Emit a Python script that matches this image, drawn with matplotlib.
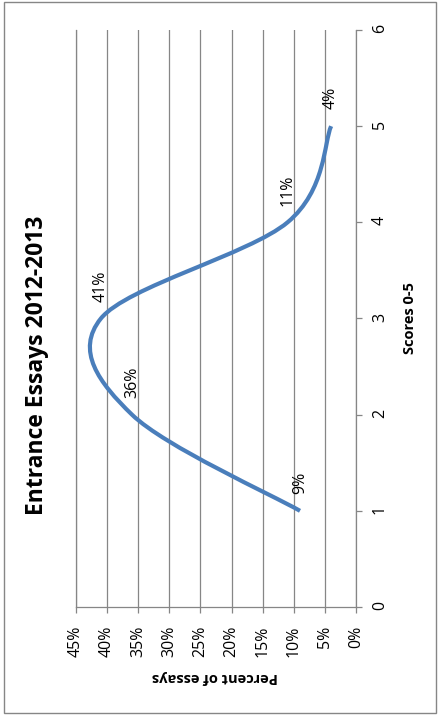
import numpy as np
import matplotlib
matplotlib.use("Agg")
import matplotlib.pyplot as plt
from matplotlib.path import Path
from matplotlib.patches import PathPatch, Rectangle

plt.rcParams['font.family'] = ['Open Sans', 'DejaVu Sans']

# data (chart is shown rotated: scores run up the page, percent runs right-to-left)
scores = [1, 2, 3, 4, 5]
percents = [9, 36, 41, 11, 4]
pct_ticks = [0, 5, 10, 15, 20, 25, 30, 35, 40, 45]
score_ticks = [0, 1, 2, 3, 4, 5, 6]

title = 'Entrance Essays 2012-2013'
score_label = 'Scores 0-5'
pct_label = 'Percent of essays'

W, H = 438, 715
fig = plt.figure(figsize=(W / 100, H / 100), dpi=100)
ax = fig.add_axes([76 / W, 108 / H, 280 / W, 577 / H])

grey = '#868686'
blue = '#4A7EBB'

# smoothed line (Bezier, like a spreadsheet "smoothed line")
pts = np.column_stack([percents, scores]).astype(float)
ext = np.vstack([pts[0], pts, pts[-1]])
verts = [tuple(pts[0])]
codes = [Path.MOVETO]
for i in range(len(pts) - 1):
    p0, p1, p2, p3 = ext[i], ext[i + 1], ext[i + 2], ext[i + 3]
    c1 = p1 + (p2 - p0) / 6
    c2 = p2 - (p3 - p1) / 6
    verts += [tuple(c1), tuple(c2), tuple(p2)]
    codes += [Path.CURVE4] * 3
ax.add_patch(PathPatch(Path(verts, codes), facecolor='none', edgecolor=blue,
                       lw=3.0, capstyle='butt', zorder=3))

for p, s in zip(percents, scores):
    ax.annotate(f'{p}%', (p, s), xytext=(0, 12), textcoords='offset points',
                rotation=90, ha='center', va='bottom', fontsize=11.5, color='black')

ax.set_xlim(45, 0)
ax.set_ylim(0, 6)
ax.set_xticks(pct_ticks)
ax.set_xticklabels([f'{t}%' for t in pct_ticks])
ax.set_yticks(score_ticks)
ax.yaxis.tick_right()

ax.grid(axis='x', color=grey, lw=0.9)
ax.set_axisbelow(True)
ax.spines['top'].set_visible(False)
for side in ['left', 'right', 'bottom']:
    ax.spines[side].set_color(grey)
    ax.spines[side].set_linewidth(0.9)

ax.tick_params(axis='x', direction='out', length=4.5, width=0.9, color=grey,
               pad=9, labelsize=11.5, labelrotation=90)
ax.tick_params(axis='y', direction='out', length=4.5, width=0.9, color=grey,
               pad=7, labelsize=11.5, labelrotation=90)

fig.text(37 / W, 1 - 365 / H, title, rotation=90, ha='center', va='center',
         fontsize=16.5, fontweight='bold')
fig.text(410 / W, 1 - 318 / H, score_label, rotation=90, ha='center', va='center',
         fontsize=10.5, fontweight='bold')
fig.text(215 / W, 1 - 677 / H, pct_label, rotation=180, ha='center', va='center',
         fontsize=10.5, fontweight='bold')

fig.add_artist(Rectangle((4 / W, 2 / H), 432 / W, 711 / H, transform=fig.transFigure,
                         fill=False, edgecolor=grey, lw=1))

fig.savefig('out.png', dpi=100)
